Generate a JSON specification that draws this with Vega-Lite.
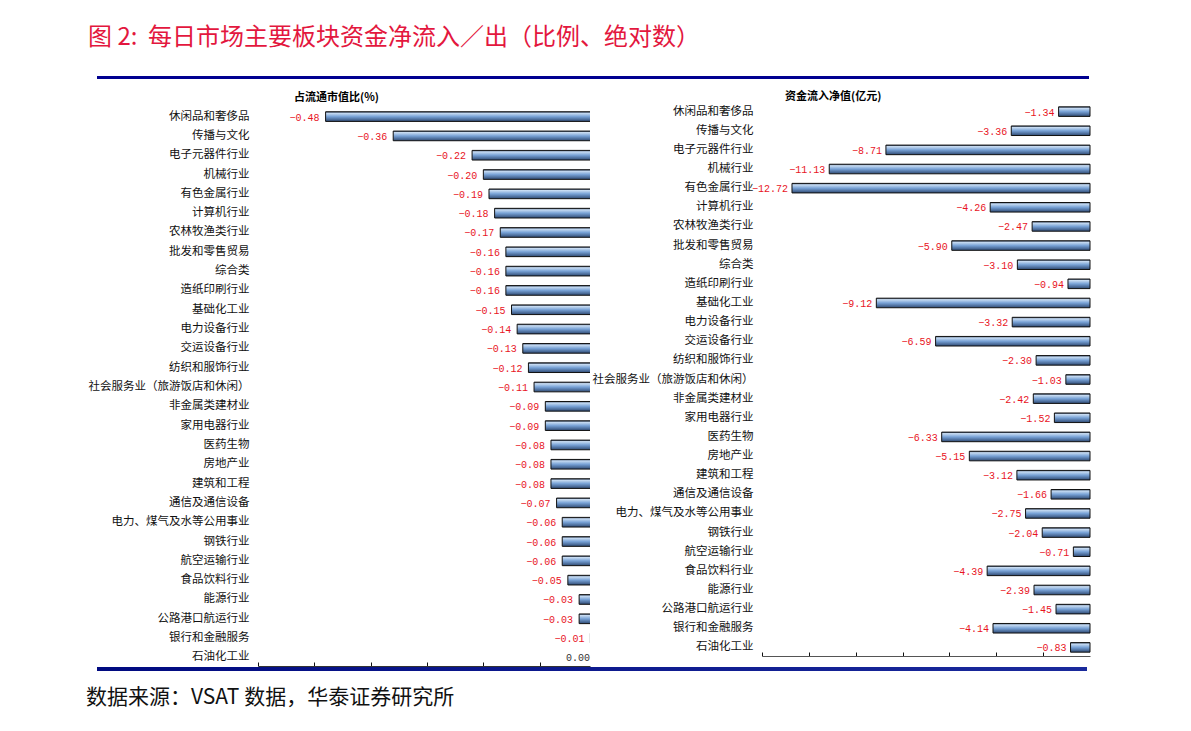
{
  "$schema": "https://vega.github.io/schema/vega-lite/v6.json",
  "padding": {"left": 86, "top": 26, "right": 5, "bottom": 5},
  "background": "white",
  "title": {"text": "图 2:\u00a0\u00a0每日市场主要板块资金净流入／出（比例、绝对数）", "anchor": "start", "frame": "bounds", "font": "Noto Sans CJK SC", "fontSize": 24, "fontWeight": "normal", "color": "#e3173e", "offset": 26, "dx": 2},
  "config": {"view": {"stroke": null}, "axis": {"grid": false}, "font": "Noto Sans CJK SC"},
  "datasets": {
    "sectors": [
      {"sector": "休闲品和奢侈品", "pct": -0.48, "amt": -1.34},
      {"sector": "传播与文化", "pct": -0.36, "amt": -3.36},
      {"sector": "电子元器件行业", "pct": -0.22, "amt": -8.71},
      {"sector": "机械行业", "pct": -0.20, "amt": -11.13},
      {"sector": "有色金属行业", "pct": -0.19, "amt": -12.72},
      {"sector": "计算机行业", "pct": -0.18, "amt": -4.26},
      {"sector": "农林牧渔类行业", "pct": -0.17, "amt": -2.47},
      {"sector": "批发和零售贸易", "pct": -0.16, "amt": -5.90},
      {"sector": "综合类", "pct": -0.16, "amt": -3.10},
      {"sector": "造纸印刷行业", "pct": -0.16, "amt": -0.94},
      {"sector": "基础化工业", "pct": -0.15, "amt": -9.12},
      {"sector": "电力设备行业", "pct": -0.14, "amt": -3.32},
      {"sector": "交运设备行业", "pct": -0.13, "amt": -6.59},
      {"sector": "纺织和服饰行业", "pct": -0.12, "amt": -2.30},
      {"sector": "社会服务业（旅游饭店和休闲）", "pct": -0.11, "amt": -1.03},
      {"sector": "非金属类建材业", "pct": -0.09, "amt": -2.42},
      {"sector": "家用电器行业", "pct": -0.09, "amt": -1.52},
      {"sector": "医药生物", "pct": -0.08, "amt": -6.33},
      {"sector": "房地产业", "pct": -0.08, "amt": -5.15},
      {"sector": "建筑和工程", "pct": -0.08, "amt": -3.12},
      {"sector": "通信及通信设备", "pct": -0.07, "amt": -1.66},
      {"sector": "电力、煤气及水等公用事业", "pct": -0.06, "amt": -2.75},
      {"sector": "钢铁行业", "pct": -0.06, "amt": -2.04},
      {"sector": "航空运输行业", "pct": -0.06, "amt": -0.71},
      {"sector": "食品饮料行业", "pct": -0.05, "amt": -4.39},
      {"sector": "能源行业", "pct": -0.03, "amt": -2.39},
      {"sector": "公路港口航运行业", "pct": -0.03, "amt": -1.45},
      {"sector": "银行和金融服务", "pct": -0.01, "amt": -4.14},
      {"sector": "石油化工业", "pct": 0.00, "amt": -0.83}
    ]
  },
  "spacing": -1,
  "vconcat": [
    {
      "data": {"values": [{"band": "top"}]},
      "width": 992,
      "height": 3,
      "mark": {"type": "rect", "color": "#000090"},
      "encoding": {
        "x": {"datum": 0, "type": "quantitative", "scale": {"domain": [0, 1], "nice": false}, "axis": {"labels": false, "ticks": false, "domain": false, "title": null, "grid": false, "minExtent": 12.1, "maxExtent": 12.1}},
        "x2": {"datum": 1}
      }
    },
    {
      "spacing": -10,
      "hconcat": [
        {
          "data": {"values": [{"d": 0}]},
          "width": 1,
          "height": 1,
          "mark": {"type": "point", "size": 0, "opacity": 0},
          "encoding": {}
        },
        {
          "spacing": 1,
          "hconcat": [
            {
              "width": 332,
              "height": 563,
              "title": {"text": "占流通市值比(%)", "anchor": "start", "frame": "group", "dx": 36, "fontSize": 11, "fontWeight": "bold", "offset": 0, "color": "#000"},
              "data": {"name": "sectors"},
              "encoding": {
                "y": {"field": "sector", "type": "nominal", "sort": null, "scale": {"paddingInner": 0.5, "paddingOuter": 0.324, "align": 0.7}, "axis": {"title": null, "ticks": false, "tickSize": 0, "domain": false, "labelPadding": 9, "labelFontSize": 11.5, "labelColor": "#111", "labelFont": "Noto Sans CJK SC"}},
                "x": {"field": "pct", "type": "quantitative", "scale": {"domain": [-0.6, -0.0107], "nice": false, "zero": false}, "axis": {"title": null, "labels": false, "values": [-0.6, -0.5, -0.4, -0.3, -0.2, -0.1], "tickSize": -4, "tickColor": "#111", "domainColor": "#333"}}
              },
              "layer": [
                {"mark": {"type": "bar", "clip": true, "stroke": "#111", "strokeWidth": 1,
                  "fill": {"x1": 0, "y1": 0, "x2": 0, "y2": 1, "gradient": "linear", "stops": [{"offset": 0, "color": "#2b3e5c"}, {"offset": 0.15, "color": "#c8dcf2"}, {"offset": 0.5, "color": "#78a2d6"}, {"offset": 1, "color": "#2f4a73"}]}},
                  "encoding": {"x2": {"datum": 0}}},
                {"mark": {"type": "text", "align": "right", "baseline": "middle", "dx": -6, "dy": 1, "font": "Liberation Mono", "fontSize": 10},
                  "encoding": {"text": {"field": "pct", "type": "quantitative", "format": ".2f"}, "color": {"condition": {"test": "datum.pct < 0", "value": "#e8141e"}, "value": "#333"}}}
              ]
            },
            {
              "width": 328,
              "height": 553,
              "title": {"text": "资金流入净值(亿元)", "anchor": "start", "frame": "group", "dx": 23, "fontSize": 11, "fontWeight": "bold", "offset": 1, "color": "#000"},
              "data": {"name": "sectors"},
              "encoding": {
                "y": {"field": "sector", "type": "nominal", "sort": null, "scale": {"paddingInner": 0.5, "paddingOuter": 0.2}, "axis": {"title": null, "ticks": false, "tickSize": 0, "domain": false, "labelPadding": 9, "labelFontSize": 11.5, "labelColor": "#111", "labelFont": "Noto Sans CJK SC"}},
                "x": {"field": "amt", "type": "quantitative", "scale": {"domain": [-14, 0], "nice": false}, "axis": {"title": null, "labels": false, "values": [-14, -12, -10, -8, -6, -4, -2], "tickSize": -4, "tickColor": "#111", "domainColor": "#555"}}
              },
              "layer": [
                {"mark": {"type": "bar", "stroke": "#111", "strokeWidth": 1,
                  "fill": {"x1": 0, "y1": 0, "x2": 0, "y2": 1, "gradient": "linear", "stops": [{"offset": 0, "color": "#2b3e5c"}, {"offset": 0.15, "color": "#c8dcf2"}, {"offset": 0.5, "color": "#78a2d6"}, {"offset": 1, "color": "#2f4a73"}]}}},
                {"mark": {"type": "text", "align": "right", "baseline": "middle", "dx": -4, "dy": 1, "font": "Liberation Mono", "fontSize": 10, "color": "#e8141e"},
                  "encoding": {"text": {"field": "amt", "type": "quantitative", "format": ".2f"}}}
              ]
            }
          ]
        }
      ]
    },
    {
      "data": {"values": [{"band": "bottom"}]},
      "width": 990,
      "height": 4,
      "title": {"text": "数据来源：VSAT 数据，华泰证券研究所", "orient": "bottom", "anchor": "start", "frame": "bounds", "fontSize": 21, "fontWeight": "normal", "color": "#111", "offset": 16, "dx": -11},
      "mark": {"type": "rect", "fill": {"x1": 0, "y1": 0, "x2": 1, "y2": 0, "gradient": "linear", "stops": [{"offset": 0, "color": "#000a80"}, {"offset": 1, "color": "#1a2a9c"}]}},
      "encoding": {
        "x": {"datum": 0, "type": "quantitative", "scale": {"domain": [0, 1], "nice": false}, "axis": null},
        "x2": {"datum": 1}
      }
    }
  ]
}
